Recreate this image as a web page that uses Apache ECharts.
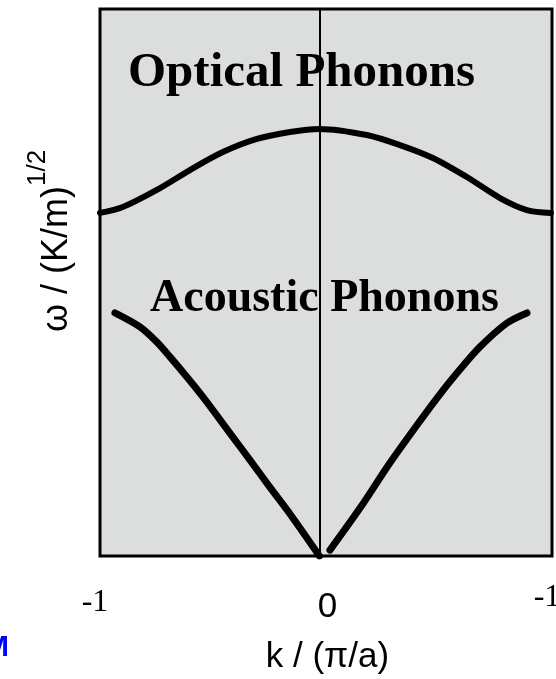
<!DOCTYPE html>
<html>
<head>
<meta charset="utf-8">
<script src="https://cdn.jsdelivr.net/npm/echarts@6/dist/echarts.min.js"></script>
<style>
  html, body { margin: 0; padding: 0; background: #fff; }
  #chart { width: 556px; height: 679px; }
</style>
</head>
<body>
<div id="chart"></div>
<script>
// Dispersion relation of a diatomic chain: omega vs k over the Brillouin zone
const kRange = [-1, 1.06];
const omegaRange = [0, 2.5];

// Optical branch [k, omega]
const opticalBranch = [
  [-1.0, 1.568], [-0.896, 1.595], [-0.741, 1.673], [-0.590, 1.764],
  [-0.440, 1.846], [-0.285, 1.906], [-0.134, 1.938], [0, 1.952],
  [0.216, 1.924], [0.367, 1.878], [0.517, 1.819], [0.672, 1.732],
  [0.823, 1.636], [0.946, 1.581], [1.055, 1.568]
];

// Acoustic branch, negative k
const acousticLeft = [
  [-0.932, 1.111], [-0.818, 1.047], [-0.741, 0.978], [-0.681, 0.910],
  [-0.604, 0.818], [-0.531, 0.727], [-0.408, 0.562], [-0.317, 0.439],
  [-0.226, 0.315], [-0.134, 0.192], [0, 0]
];

// Acoustic branch, positive k
const acousticRight = [
  [0.048, 0.027], [0.185, 0.219], [0.321, 0.425], [0.435, 0.585],
  [0.536, 0.722], [0.627, 0.836], [0.731, 0.955], [0.855, 1.065],
  [0.946, 1.111]
];

// Tick labels along k
const tickValues = [-1, 0, 1.06];
const tickLabels = ['-1', '0', '-1'];

const branchLabels = ['Optical Phonons', 'Acoustic Phonons'];
const xTitle = 'k / (π/a)';
const yTitle = 'ω / (K/m)';
const yTitleSup = '1/2';

const chart = echarts.init(document.getElementById('chart'), null, { renderer: 'canvas' });

const curve = (w) => ({ color: '#000', width: w, cap: 'round', join: 'round' });

chart.setOption({
  animation: false,
  backgroundColor: '#fff',
  grid: {
    left: 100, right: 4, top: 9, bottom: 123,
    show: true, backgroundColor: '#dcdddd',
    borderColor: '#000', borderWidth: 3
  },
  xAxis: {
    type: 'value', min: kRange[0], max: kRange[1],
    axisLine: { show: false },
    axisTick: { show: false }, axisLabel: { show: false }, splitLine: { show: false }
  },
  yAxis: {
    type: 'value', min: omegaRange[0], max: omegaRange[1],
    axisLine: { show: true, onZero: true, lineStyle: { color: '#000', width: 2 } },
    axisTick: { show: false }, axisLabel: { show: false }, splitLine: { show: false }
  },
  series: [
    { type: 'line', data: opticalBranch, smooth: 0.3, symbol: 'none', lineStyle: curve(6), z: 3 },
    { type: 'line', data: acousticLeft, smooth: 0.3, symbol: 'none', lineStyle: curve(7), z: 3 },
    { type: 'line', data: acousticRight, smooth: 0.3, symbol: 'none', lineStyle: curve(7), z: 3 }
  ]
});

function px(k, w) { return chart.convertToPixel({ gridIndex: 0 }, [k, w]); }

const base = px(0, 0);
const tickStyles = [
  { font: '32px "Liberation Serif"', dx: -5, y: 603 },
  { font: '35px "Liberation Sans", Arial', dx: 8, y: 607 },
  { font: '32px "Liberation Serif"', dx: -5, y: 598 }
];

const graphics = tickValues.map((v, i) => ({
  type: 'text',
  x: px(v, 0)[0] + tickStyles[i].dx,
  y: tickStyles[i].y,
  style: { text: tickLabels[i], font: tickStyles[i].font, fill: '#000', align: 'center', verticalAlign: 'middle' }
}));

graphics.push(
  {
    type: 'text', x: 128, y: 73, z: 10,
    style: { text: branchLabels[0], font: 'bold 49px "Liberation Serif"', fill: '#000', align: 'left', verticalAlign: 'middle' }
  },
  {
    type: 'text', x: 150, y: 299, z: 10,
    style: { text: branchLabels[1], font: 'bold 46px "Liberation Serif"', fill: '#000', align: 'left', verticalAlign: 'middle' }
  },
  {
    type: 'text', x: base[0] + 8, y: 657,
    style: { text: xTitle, font: '35px "Liberation Sans", Arial', fill: '#000', align: 'center', verticalAlign: 'middle' }
  },
  {
    type: 'text', x: 50, y: 241, rotation: Math.PI / 2,
    style: {
      text: '{m|' + yTitle + '}{s|' + yTitleSup + '}',
      align: 'center', verticalAlign: 'middle',
      rich: {
        m: { font: '36px "Liberation Sans", Arial', fill: '#000', lineHeight: 50, verticalAlign: 'bottom' },
        s: { font: '26px "Liberation Sans", Arial', fill: '#000', lineHeight: 50, verticalAlign: 'top' }
      }
    }
  },
  {
    type: 'text', x: -16, y: 648,
    style: { text: 'M', font: 'bold 30px "Liberation Sans", Arial', fill: '#0000ff', align: 'left', verticalAlign: 'middle' }
  }
);

chart.setOption({ graphic: graphics });
</script>
</body>
</html>
